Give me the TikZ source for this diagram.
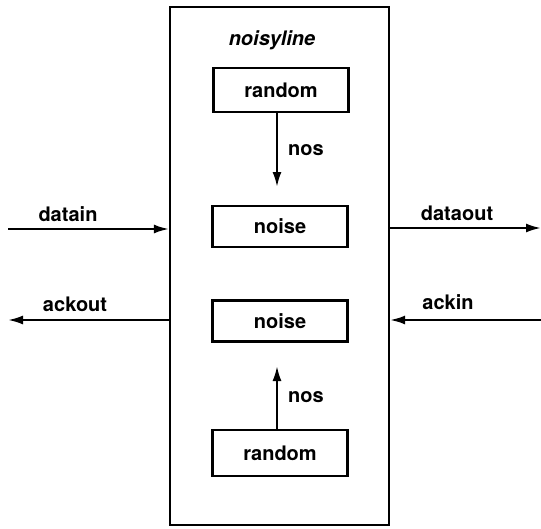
\documentclass[tikz,border=0pt]{standalone}
\usepackage{fontspec}
\setmainfont{TeX Gyre Heros}
\usetikzlibrary{arrows.meta}
\begin{document}
\begin{tikzpicture}[x=1pt,y=-1pt,
  lw/.style={line width=2.2pt},
  txt/.style={font=\fontsize{20}{22}\selectfont\bfseries},
  blk/.style={draw,lw,txt,minimum width=135pt,minimum height=44pt,inner sep=0pt},
  lbl/.style={txt,inner sep=0pt},
  arr/.style={lw,-{Latex[length=15pt,width=9pt]}}]
\useasboundingbox (0,0) rectangle (541,528);
\node[draw,lw,minimum width=219pt,minimum height=518pt,inner sep=0pt] (outer) at (279.5,266) {};
\node[lbl,font=\fontsize{20}{22}\selectfont\bfseries\itshape] (title) at (272,40) {noisyline};
\node[blk] (r1) at (281,90) {random};
\node[blk,minimum height=41pt] (n1) at (280,226.5) {noise};
\node[blk,minimum height=41pt] (n2) at (280,321) {noise};
\node[blk,minimum height=46pt] (r2) at (280,453) {random};
\coordinate (t1) at (277,187);
\coordinate (t2) at (277,366);
\draw[arr] (r1.south -| t1) -- (t1);
\draw[arr] (r2.north -| t2) -- (t2);
\node[lbl,anchor=west] (nos1) at (288,150) {nos};
\node[lbl,anchor=west] (nos2) at (288,397) {nos};
\coordinate (dinL) at (8,229);
\coordinate (dinR) at (outer.west |- dinL);
\draw[arr] (dinL) -- (dinR);
\node[lbl] (datain) at (68,214) {datain};
\coordinate (akoL) at (8,320);
\coordinate (akoR) at (outer.west |- akoL);
\draw[arr] (akoR) -- (akoL);
\node[lbl] (ackout) at (75,304) {ackout};
\coordinate (doR) at (541,228);
\coordinate (doL) at (outer.east |- doR);
\draw[arr] (doL) -- (doR);
\node[lbl] (dataout) at (457,213) {dataout};
\coordinate (akiR) at (541,320);
\coordinate (akiL) at (outer.east |- akiR);
\draw[arr] (akiR) -- (akiL);
\node[lbl] (ackin) at (448,302) {ackin};
\end{tikzpicture}
\end{document}
